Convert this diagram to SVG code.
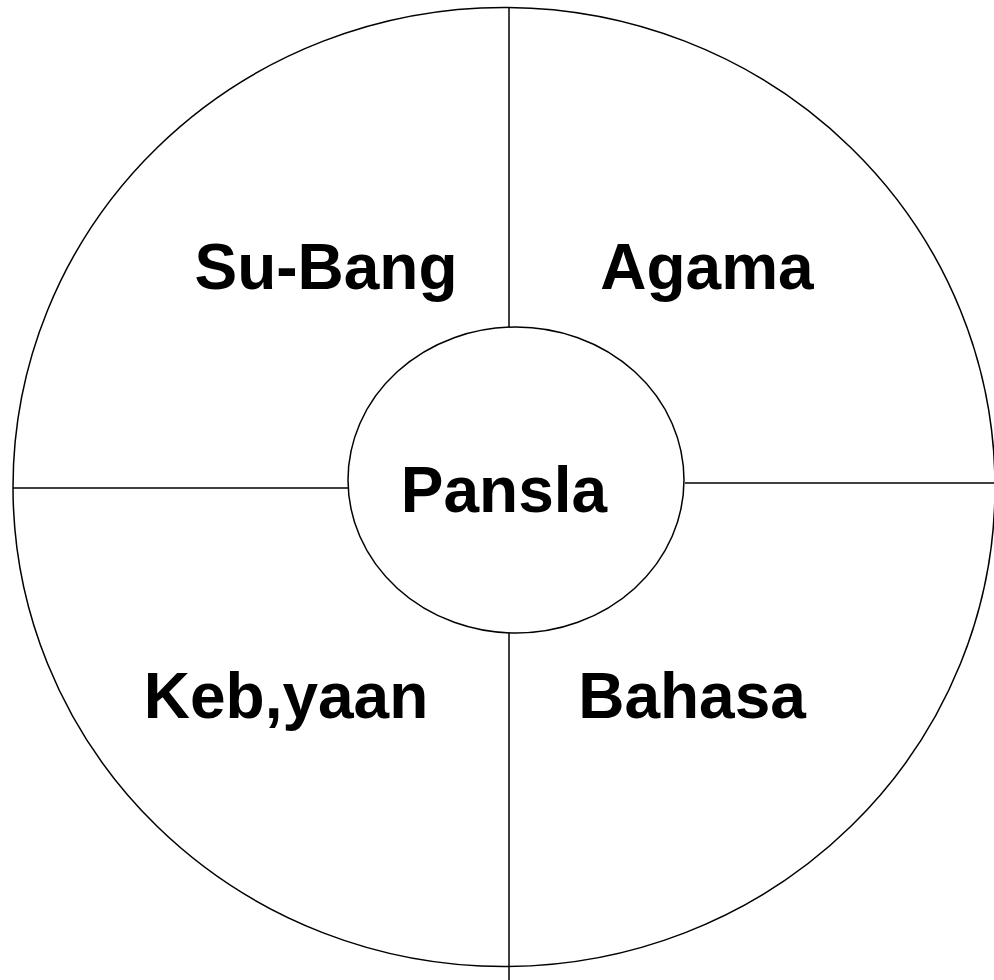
<svg xmlns="http://www.w3.org/2000/svg" width="994" height="980" viewBox="0 0 994 980">
<style>
.s{fill:none;stroke:#000;stroke-width:1.5}
.t{font-family:"Liberation Sans",Arial,sans-serif;font-weight:bold;font-size:64px;fill:#000;text-anchor:middle}
</style>
<rect width="994" height="980" fill="#fff"/>
<g id="outer"><ellipse class="s" cx="504" cy="487" rx="491" ry="479.5"/></g>
<g id="connectors">
<line class="s" x1="509" y1="7.5" x2="509" y2="327"/>
<line class="s" x1="509" y1="633" x2="509" y2="980"/>
<line class="s" x1="13" y1="488" x2="349" y2="488"/>
<line class="s" x1="685" y1="483" x2="994" y2="483"/>
</g>
<g id="center"><ellipse class="s" cx="516" cy="480" rx="168" ry="153" fill="#fff"/><text class="t" x="504" y="512">Pansla</text></g>
<g id="subang"><text class="t" x="326" y="289">Su-Bang</text></g>
<g id="agama"><text class="t" x="707" y="289">Agama</text></g>
<g id="kebyaan"><text class="t" x="286" y="718">Keb,yaan</text></g>
<g id="bahasa"><text class="t" x="692" y="718">Bahasa</text></g>
</svg>
